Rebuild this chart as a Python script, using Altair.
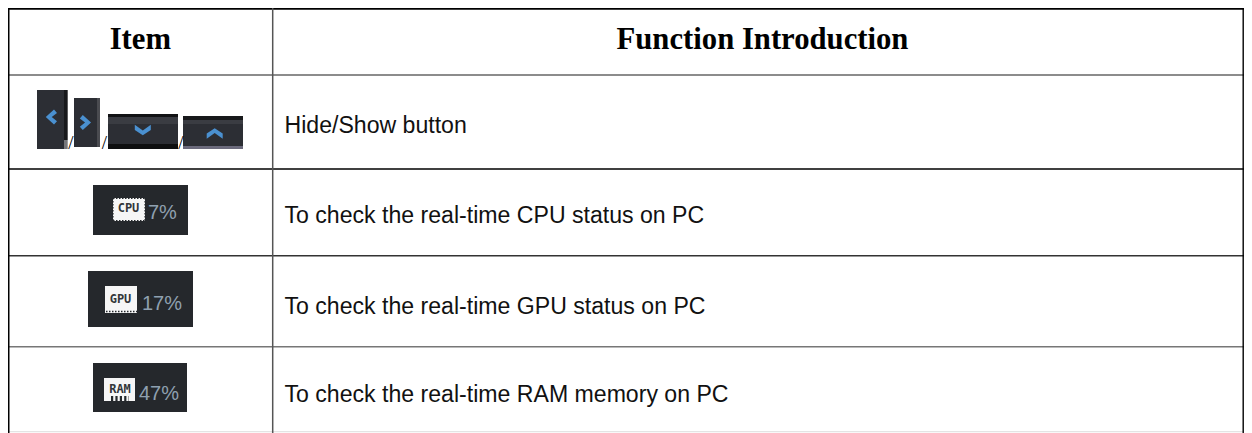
import altair as alt
import pandas as pd

# ---- table content ----
headers = ["Item", "Function Introduction"]
descriptions = [
    "Hide/Show button",
    "To check the real-time CPU status on PC",
    "To check the real-time GPU status on PC",
    "To check the real-time RAM memory on PC",
]
chip_names = ["CPU", "GPU", "RAM"]
percents = ["7%", "17%", "47%"]

# ---- table grid (image pixels) ----
h_pos = [8.8, 75, 169, 255.7, 346.7, 431.7]
h_col = ["#000000", "#666666", "#000000", "#333333", "#777777", "#e4e4e4"]
h_wid = [1.8, 1.6, 1.6, 1.4, 1.4, 1.2]
v_pos = [8.6, 272.7, 1243.2]
v_col = ["#000000", "#555555", "#000000"]
v_wid = [1.8, 1.5, 1.4]

# ---- icon blocks ----
px0 = [37, 64, 64, 74, 97, 108, 108, 108, 108, 183, 183, 183, 183, 93, 88, 93]
px1 = [64, 67.7, 67.7, 97, 100, 178, 178, 178, 178, 243, 243, 243, 243, 188, 193, 187]
py0 = [90, 90, 140, 98, 98, 124, 114, 117, 144, 124, 116, 120, 146, 185, 271, 363]
py1 = [149, 140, 149, 147, 147, 144, 117, 124, 149, 146, 120, 124, 149, 235, 327, 412]
pcol = ["#2c2e34", "#17181b", "#77777a", "#2c2e34", "#4a4b50", "#2c2e34", "#111214", "#3a3c42", "#0e0f10",
        "#2c2e34", "#18191b", "#3a3c42", "#6b6a7c", "#25282c", "#25282c", "#25282c"]

chev_x = [51, 85.8, 142.8, 214.7]
chev_y = [117, 122.5, 130, 133.5]
chev_shape = [
    "M0.4 -1 L-0.7 0 L0.4 1 L0.8 0.55 L0.1 0 L0.8 -0.55 Z",
    "M-0.4 -1 L0.7 0 L-0.4 1 L-0.8 0.55 L-0.1 0 L-0.8 -0.55 Z",
    "M-1 -0.65 L0 0.05 L1 -0.65 L1 0 L0 0.65 L-1 0 Z",
    "M-1 0.65 L0 -0.05 L1 0.65 L1 0 L0 -0.65 L-1 0 Z",
]
slash_x = [71, 104.5, 181]
slash_y = [149, 149, 149]

chip_x0 = [113, 105, 104]
chip_x1 = [145, 137, 135]
chip_y0 = [198, 286, 378]
chip_y1 = [221, 313, 401]
chip_tx = [128.5, 120.5, 120]
chip_ty = [212, 303, 393]
pct_x = [148, 142, 139]
pct_y = [219, 310, 400]

# pin rows drawn over the chip edges
pin_x0 = [113, 113, 113, 145, 106, 111]
pin_x1 = [145, 145, 113, 145, 137, 129]
pin_y0 = [198.5, 220.5, 198, 198, 311.5, 398.5]
pin_y1 = [198.5, 220.5, 221, 221, 311.5, 398.5]
pin_dash = [1.5, 1.5, 1.5, 1.5, 1.5, 2.2]
pin_wid = [1, 1, 1.2, 1.2, 1.5, 5]

SANS = "Liberation Sans"
SERIF = "Liberation Serif"

X = alt.X("x:Q", axis=None, scale=alt.Scale(domain=[8, 1244], clamp=True))
Y = alt.Y("y:Q", axis=None, scale=alt.Scale(domain=[433, 8], clamp=True))
X2 = alt.X2("x2:Q")
Y2 = alt.Y2("y2:Q")

# grid
h_df = pd.DataFrame({"y": h_pos, "x": [8] * 6, "x2": [1243.9] * 6, "c": h_col, "w": h_wid})
v_df = pd.DataFrame({"x": v_pos, "y": [8] * 3, "y2": [433] * 3, "c": v_col, "w": v_wid})
h_rules = alt.Chart(h_df).mark_rule().encode(
    x=X, x2=X2, y=Y,
    color=alt.Color("c:N", scale=None),
    strokeWidth=alt.StrokeWidth("w:Q", scale=None),
)
v_rules = alt.Chart(v_df).mark_rule().encode(
    x=X, y=Y, y2=Y2,
    color=alt.Color("c:N", scale=None),
    strokeWidth=alt.StrokeWidth("w:Q", scale=None),
)

# icon panels
panels = alt.Chart(pd.DataFrame({"x": px0, "x2": px1, "y": py0, "y2": py1, "c": pcol})).mark_rect().encode(
    x=X, x2=X2, y=Y, y2=Y2, color=alt.Color("c:N", scale=None)
)

# chevrons
chev_layers = [
    alt.Chart(pd.DataFrame({"x": [cx], "y": [cy]}))
    .mark_point(shape=s, filled=True, size=(225 if i < 2 else 256), color="#4a90d0", opacity=1)
    .encode(x=X, y=Y)
    for i, (cx, cy, s) in enumerate(zip(chev_x, chev_y, chev_shape))
]

# slashes
slashes = alt.Chart(pd.DataFrame({"x": slash_x, "y": slash_y, "t": ["/"] * 3})).mark_text(
    font=SERIF, fontSize=19, color="#000000", align="center", baseline="alphabetic"
).encode(x=X, y=Y, text="t:N")

# chips
chips = alt.Chart(pd.DataFrame({"x": chip_x0, "x2": chip_x1, "y": chip_y0, "y2": chip_y1})).mark_rect(
    color="#f6f6f6"
).encode(x=X, x2=X2, y=Y, y2=Y2)
pin_layers = [
    alt.Chart(pd.DataFrame({"x": [a], "x2": [b], "y": [c], "y2": [d]}))
    .mark_rule(color="#25282c", strokeDash=[e, e], strokeWidth=w)
    .encode(x=X, x2=X2, y=Y, y2=Y2)
    for a, b, c, d, e, w in zip(pin_x0, pin_x1, pin_y0, pin_y1, pin_dash, pin_wid)
]
chip_text = alt.Chart(pd.DataFrame({"x": chip_tx, "y": chip_ty, "t": chip_names})).mark_text(
    font="DejaVu Sans Mono", fontSize=12, fontWeight="bold", color="#33363a", align="center", baseline="alphabetic"
).encode(x=X, y=Y, text="t:N")
pct_text = alt.Chart(pd.DataFrame({"x": pct_x, "y": pct_y, "t": percents})).mark_text(
    font=SANS, fontSize=20, color="#8fa0b0", align="left", baseline="alphabetic"
).encode(x=X, y=Y, text="t:N")

# header
head = alt.Chart(pd.DataFrame({"x": [140.3, 762.5], "y": [49, 49], "t": headers})).mark_text(
    font=SERIF, fontSize=30.7, fontWeight="bold", color="#000000", align="center", baseline="alphabetic"
).encode(x=X, y=Y, text="t:N")

# body
body = alt.Chart(pd.DataFrame({"x": [284.5] * 4, "y": [133, 223, 314, 402], "t": descriptions})).mark_text(
    font=SANS, fontSize=23.1, color="#111111", align="left", baseline="alphabetic"
).encode(x=X, y=Y, text="t:N")

chart = alt.layer(
    h_rules, v_rules, panels, *chev_layers, slashes, chips, *pin_layers, chip_text, pct_text, head, body
).properties(
    width=1236, height=425, padding=0, background="#ffffff", autosize=alt.AutoSizeParams(type="none")
).configure_view(stroke=None)

chart.save("out.html", embed_options={"renderer": "svg", "actions": False})
